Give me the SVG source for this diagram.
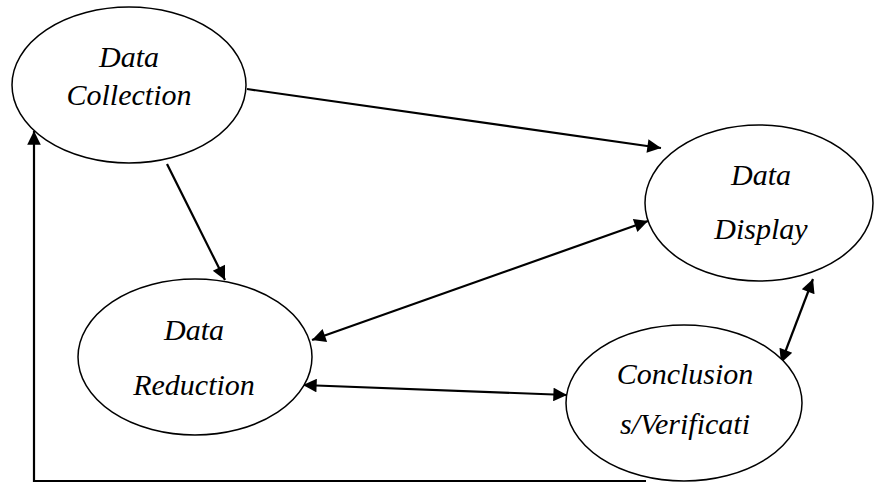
<svg xmlns="http://www.w3.org/2000/svg" width="875" height="485" viewBox="0 0 875 485">
<style>
.node ellipse{fill:#fff;stroke:#000;stroke-width:1.5}
.node text{font-family:"Liberation Serif","DejaVu Serif",serif;font-style:italic;font-size:30px;text-anchor:middle;fill:#000}
.conn line,.conn polyline{stroke:#000;stroke-width:2.2;fill:none}
</style>
<defs>
<marker id="ah" viewBox="0 0 10 10" refX="10" refY="5" markerWidth="8" markerHeight="6.2" markerUnits="strokeWidth" orient="auto-start-reverse">
<path d="M0,0 L10,5 L0,10 z" fill="#000"/>
</marker>
</defs>
<rect width="875" height="485" fill="#fff"/>
<g id="connectors" class="conn">
<line x1="247" y1="89" x2="661" y2="148" marker-end="url(#ah)"/>
<line x1="167" y1="164" x2="225" y2="280" marker-end="url(#ah)"/>
<line x1="312" y1="340" x2="648" y2="221" marker-start="url(#ah)" marker-end="url(#ah)"/>
<line x1="781" y1="363" x2="813" y2="279" marker-start="url(#ah)" marker-end="url(#ah)"/>
<line x1="303" y1="385" x2="567" y2="395" marker-start="url(#ah)" marker-end="url(#ah)"/>
<polyline points="646,481 34,481 34,131" marker-end="url(#ah)"/>
</g>
<g id="data-collection" class="node">
<ellipse cx="129" cy="85" rx="117" ry="78"/>
<text x="129" y="67">Data</text>
<text x="129" y="105">Collection</text>
</g>
<g id="data-display" class="node">
<ellipse cx="759" cy="203" rx="114" ry="78"/>
<text x="761" y="185">Data</text>
<text x="761" y="239">Display</text>
</g>
<g id="data-reduction" class="node">
<ellipse cx="195" cy="357" rx="117" ry="78"/>
<text x="194" y="340">Data</text>
<text x="194" y="395">Reduction</text>
</g>
<g id="conclusion" class="node">
<ellipse cx="684" cy="403" rx="118" ry="78"/>
<text x="685" y="384">Conclusion</text>
<text x="685" y="434">s/Verificati</text>
</g>
</svg>
